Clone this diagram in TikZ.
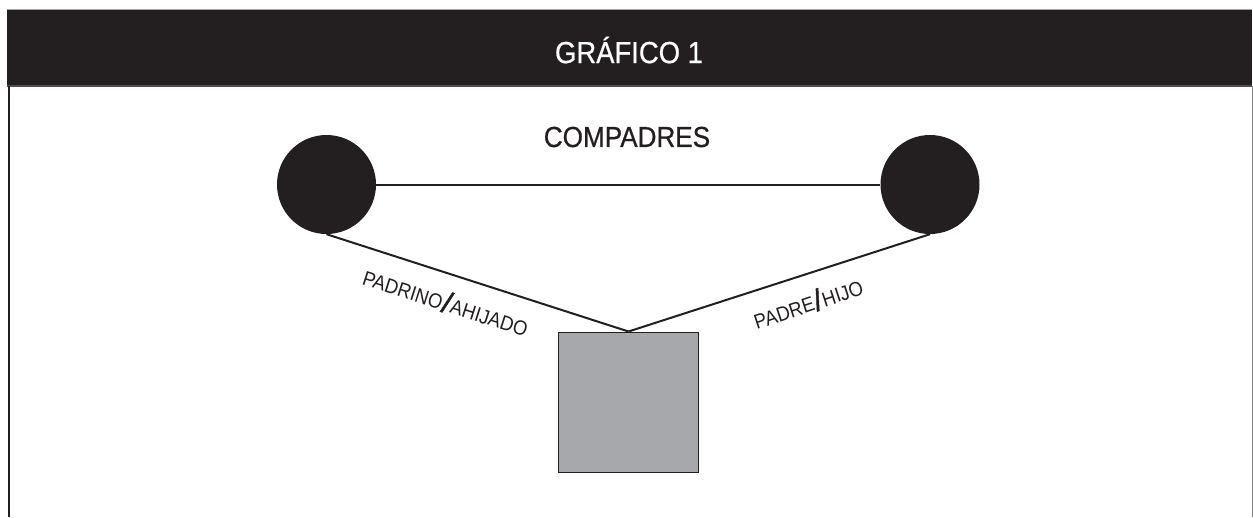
\documentclass[tikz,border=0pt]{standalone}
\usepackage{fontspec}
\setmainfont{Liberation Sans}[FakeStretch=0.9]
\newfontfamily\headfont{Liberation Sans}[FakeStretch=0.9, FakeBold=0.6]
\newfontfamily\slashfont{Liberation Sans}[FakeBold=1.5]
\definecolor{ink}{HTML}{231F20}
\definecolor{boxgray}{HTML}{A7A8AB}
\tikzset{
  person/.style={circle, fill=ink, draw=none, minimum size=99pt, inner sep=0pt},
  childbox/.style={rectangle, fill=boxgray, draw=ink, line width=1pt, minimum size=140pt, inner sep=0pt},
  tie/.style={draw=ink, line width=2pt},
  rel/.style={text=ink, font=\fontsize{20.5}{20}\selectfont, inner sep=0pt}
}
\newcommand{\relslash}{\kern0.5pt\raisebox{-1.5pt}{\slashfont\fontsize{30}{30}\selectfont /}\kern0.5pt}
\begin{document}
\begin{tikzpicture}[x=1pt,y=-1pt]
\useasboundingbox (0,0) rectangle (1253,517);
\fill[white] (0,0) rectangle (1253,517);
% header
\fill[ink] (7,9) rectangle (1252,86);
\draw[gray!70, line width=0.8pt] (7,9.2) -- (1252,9.2);
\draw[ink!80, line width=1.5pt] (7,86) -- (1252,86);
\node[text=white, font=\headfont\fontsize{30.5}{30}\selectfont] (title) at (629,50) {GRÁFICO 1};
% frame
\draw[ink, line width=2.5pt] (9,86) -- (9,517);
\draw[gray, line width=1pt] (1252,86) -- (1252,517);
% content
\node[text=ink, font=\headfont\fontsize{29}{29}\selectfont] (comp) at (627,137) {COMPADRES};
\node[person] (lc) at (326.5,184.5) {};
\node[person] (rc) at (930,184.5) {};
\node[childbox] (sq) at (628.5,402) {};
\draw[tie] (lc.east) -- (rc.west);
\draw[tie] (lc.south) -- (sq.north);
\draw[tie] (rc.south) -- (sq.north);
\node[rel, rotate=-17.8] (l1) at (446,302) {PADRINO\relslash AHIJADO};
\node[rel, rotate=18.2] (l2) at (808,303) {PADRE\relslash HIJO};
\end{tikzpicture}
\end{document}
